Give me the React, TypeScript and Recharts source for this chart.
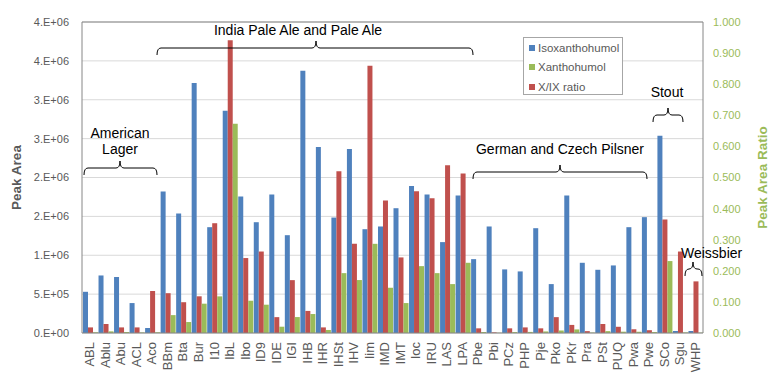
import React from "react"
import { BarChart, Bar, XAxis, YAxis, CartesianGrid, ReferenceLine } from "recharts"

const categories = [
  "ABL", "Ablu", "Abu", "ACL", "Aco", "BBm", "Bta", "Bur", "I10", "IbL",
  "Ibo", "ID9", "IDE", "IGI", "IHB", "IHR", "IHSt", "IHV", "Iim", "IMD",
  "IMT", "Ioc", "IRU", "LAS", "LPA", "Pbe", "Pbi", "PCz", "PHP", "Pje",
  "Pko", "PKr", "Pra", "PSt", "PUQ", "Pwa", "Pwe", "SCo", "Sgu", "WHP",
]

const isoxanthohumol = [
  530000, 740000, 720000, 385000, 64000, 1820000, 1537000, 3215000, 1361000, 2860000,
  1755000, 1425000, 1781000, 1258000, 3373000, 2393000, 1485000, 2367000, 1335000, 1370000,
  1605000, 1892000, 1781000, 1169000, 1768000, 950000, 1370000, 818000, 792000, 1348000,
  629000, 1768000, 903000, 813000, 869000, 1361000, 1490000, 2538000, 26000, 26000,
]

const xanthohumol = [
  9000, 21000, 13000, 7000, 9000, 230000, 141000, 377000, 471000, 2690000,
  415000, 364000, 81000, 205000, 244000, 39000, 770000, 681000, 1147000, 582000,
  385000, 860000, 770000, 629000, 903000, 13000, 3000, 12000, 14000, 20000,
  32000, 46000, 5000, 24000, 17000, 16000, 13000, 925000, 7000, 4000,
]

const ratio = [
  0.018, 0.029, 0.018, 0.018, 0.135, 0.128, 0.099, 0.118, 0.353, 0.941,
  0.241, 0.262, 0.051, 0.17, 0.071, 0.018, 0.52, 0.287, 0.859, 0.426,
  0.243, 0.456, 0.433, 0.539, 0.513, 0.015, 0.002, 0.015, 0.018, 0.015,
  0.051, 0.026, 0.006, 0.029, 0.02, 0.012, 0.009, 0.365, 0.262, 0.166,
]

const leftTicks = [0, 500000, 1000000, 1500000, 2000000, 2500000, 3000000, 3500000, 4000000]
const rightTicks = [0, 0.1, 0.2, 0.3, 0.4, 0.5, 0.6, 0.7, 0.8, 0.9, 1.0]

const seriesNames = ["Isoxanthohumol", "Xanthohumol", "X/IX ratio"]
const seriesColors = ["#4F81BD", "#9BBB59", "#C0504D"]

const data = categories.map((name, i) => ({
  name,
  iso: isoxanthohumol[i],
  xan: xanthohumol[i],
  ratio: ratio[i],
}))

// Excel "0.E+00" style
const sci = (v: number) => {
  if (v === 0) return "0.E+00"
  const e = Math.floor(Math.log10(v))
  const m = Math.round(v / Math.pow(10, e))
  return `${m}.E+${String(e).padStart(2, "0")}`
}

const XTick = (props: any) => {
  const { x, y, payload } = props
  return (
    <text
      x={x}
      y={y}
      transform={`rotate(-90 ${x} ${y})`}
      textAnchor="end"
      dy="0.35em"
      fontSize={13}
      fill="#595959"
    >
      {payload.value}
    </text>
  )
}

// horizontal curly brace, tip pointing up
const brace = (x1: number, x2: number, y: number, xm: number) => {
  const d = 7
  return `M${x1} ${y + d} Q${x1} ${y} ${x1 + 4} ${y} L${xm - 4} ${y} Q${xm} ${y} ${xm} ${y - d} Q${xm} ${y} ${xm + 4} ${y} L${x2 - 4} ${y} Q${x2} ${y} ${x2} ${y + d}`
}

export default function App() {
  return (
    <div style={{ position: "relative", width: 781, height: 384, fontFamily: "'Liberation Sans', Arial, sans-serif" }}>
      <style>{`body{margin:0}`}</style>
      <BarChart
        width={781}
        height={384}
        data={data}
        margin={{ top: 22, right: 0, bottom: 0, left: 0 }}
        barCategoryGap={1}
        barGap={0}
      >
        <CartesianGrid yAxisId="left" vertical={false} stroke="#D9D9D9" />
        <XAxis
          dataKey="name"
          interval={0}
          height={51}
          tick={<XTick />}
          tickSize={0}
          tickMargin={9}
          axisLine={{ stroke: "#868686" }}
        />
        <YAxis
          yAxisId="left"
          width={82}
          domain={[0, 4000000]}
          ticks={leftTicks}
          tickFormatter={sci}
          tick={{ fontSize: 11, fill: "#595959" }}
          tickSize={0}
          tickMargin={13}
          axisLine={{ stroke: "#868686" }}
          label={{ value: "Peak Area", angle: -90, position: "insideLeft", offset: 16, style: { fontSize: 13.5, fontWeight: "bold", fill: "#595959", textAnchor: "middle" } }}
        />
        <YAxis
          yAxisId="right"
          orientation="right"
          width={78}
          domain={[0, 1]}
          ticks={rightTicks}
          tickFormatter={(v: number) => v.toFixed(3)}
          tick={{ fontSize: 11, fill: "#9BBB59" }}
          tickSize={0}
          tickMargin={10}
          axisLine={{ stroke: "#868686" }}
          label={{ value: "Peak Area Ratio", angle: -90, position: "insideRight", offset: 19, style: { fontSize: 13.5, fontWeight: "bold", fill: "#9BBB59", textAnchor: "middle" } }}
        />
        <ReferenceLine yAxisId="left" y={4000000} stroke="#868686" />
        <Bar yAxisId="left" dataKey="iso" name={seriesNames[0]} fill={seriesColors[0]} isAnimationActive={false} />
        <Bar yAxisId="right" dataKey="ratio" name={seriesNames[2]} fill={seriesColors[2]} isAnimationActive={false} />
        <Bar yAxisId="left" dataKey="xan" name={seriesNames[1]} fill={seriesColors[1]} isAnimationActive={false} />
      </BarChart>

      <svg width={781} height={384} style={{ position: "absolute", left: 0, top: 0, pointerEvents: "none" }}>
        <g fontSize={14} fill="#000">
          <text x={120} y={138} textAnchor="middle">American</text>
          <text x={120} y={154} textAnchor="middle">Lager</text>
          <text x={298} y={35} textAnchor="middle">India Pale Ale and Pale Ale</text>
          <text x={560} y={154} textAnchor="middle">German and Czech Pilsner</text>
          <text x={667} y={97} textAnchor="middle">Stout</text>
          <text x={681} y={258}>Weissbier</text>
        </g>
        <g fill="none" stroke="#000" strokeWidth={1}>
          <path d={brace(84, 157, 168, 120)} />
          <path d={brace(157, 473, 48, 316)} />
          <path d={brace(473, 647, 172, 560)} />
          <path d={brace(653, 683, 115, 668)} />
          <path d={brace(685, 702, 269, 693)} />
        </g>
      </svg>

      <div
        style={{
          position: "absolute",
          left: 523,
          top: 37,
          width: 98,
          height: 56,
          border: "1px solid #A6A6A6",
          background: "#fff",
          fontSize: 11.5,
          color: "#595959",
        }}
      >
        {[0, 1, 2].map((i) => (
          <div key={i} style={{ position: "absolute", left: 5, top: 2 + i * 19.5, height: 15, display: "flex", alignItems: "center", whiteSpace: "nowrap" }}>
            <span style={{ display: "inline-block", width: 6, height: 6, background: seriesColors[i], marginRight: 3 }} />
            {seriesNames[i]}
          </div>
        ))}
      </div>
    </div>
  )
}
